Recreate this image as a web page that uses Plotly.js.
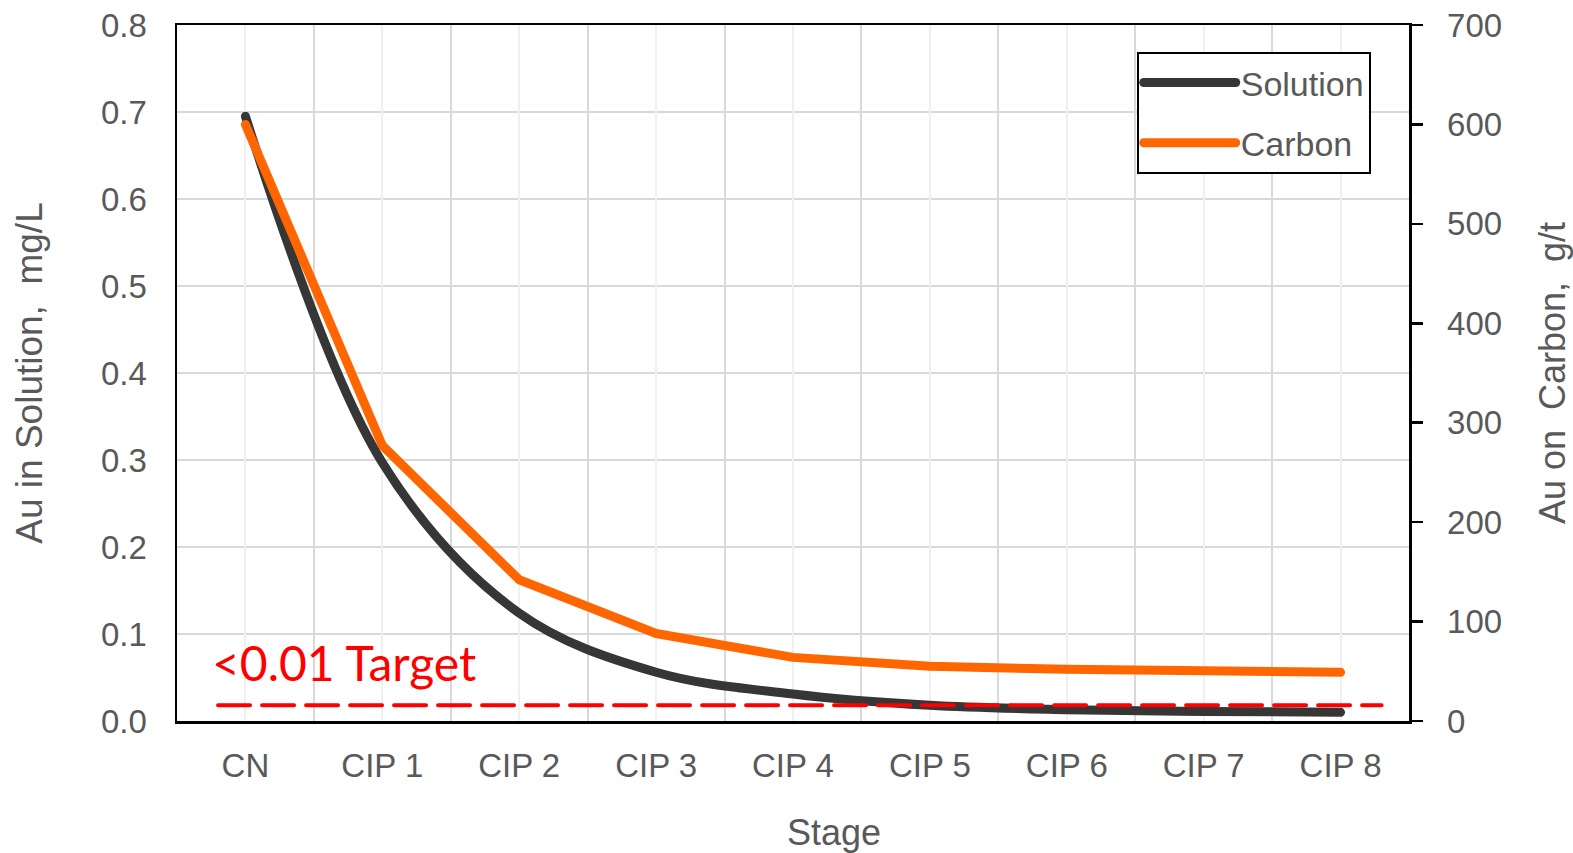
<!DOCTYPE html>
<html>
<head>
<meta charset="utf-8">
<script src="https://cdn.plot.ly/plotly-3.0.1.min.js"></script>
<style>
html, body { margin: 0; padding: 0; background: #fff; }
#chart { width: 1573px; height: 853px; }
.js-line { stroke-linecap: round; stroke-linejoin: round; }
</style>
</head>
<body>
<div id="chart"></div>
<script>
// ---- data ----
const stages = ['CN', 'CIP 1', 'CIP 2', 'CIP 3', 'CIP 4', 'CIP 5', 'CIP 6', 'CIP 7', 'CIP 8'];
const solution = [0.695, 0.297, 0.124, 0.056, 0.031, 0.018, 0.013, 0.011, 0.010];
const carbon = [600, 277, 142, 88, 64, 55, 52, 49.5, 49];
const targetSpan = [-0.2, 8.3];
const targetLevel = [0.018, 0.018];
const targetLabel = '<0.01 Target';
const xTitle = 'Stage';

const tickFont = { family: 'Liberation Sans, Arial, sans-serif', size: 33, color: '#595959' };
const titleFont = { family: 'Liberation Sans, Arial, sans-serif', size: 36, color: '#595959' };

const traces = [
  {
    name: 'Solution', x: stages, y: solution, xaxis: 'x', yaxis: 'y',
    type: 'scatter', mode: 'lines',
    line: { color: '#363636', width: 9, shape: 'spline', smoothing: 1 },
    legendgroup: 'a'
  },
  {
    name: 'Carbon', x: stages, y: carbon, xaxis: 'x', yaxis: 'y2',
    type: 'scatter', mode: 'lines',
    line: { color: '#FF6600', width: 9 },
    legendgroup: 'b'
  },
  {
    name: 'Target', x: targetSpan, y: targetLevel, xaxis: 'x2', yaxis: 'y',
    type: 'scatter', mode: 'lines', showlegend: false, hoverinfo: 'skip',
    line: { color: '#FF0000', width: 4, dash: '32px,12px' }
  }
];

const layout = {
  width: 1573, height: 853,
  margin: { l: 177, r: 164, t: 25, b: 132 },
  paper_bgcolor: '#ffffff', plot_bgcolor: '#ffffff',
  showlegend: true,
  legend: {
    x: 0.779, y: 0.9613, xanchor: 'left', yanchor: 'top',
    bgcolor: '#ffffff', bordercolor: '#000000', borderwidth: 2,
    font: { family: 'Liberation Sans, Arial, sans-serif', size: 34, color: '#595959' },
    itemwidth: 92, traceorder: 'grouped', tracegroupgap: 13
  },
  xaxis: {
    type: 'category', categoryorder: 'array', categoryarray: stages,
    range: [-0.5, 8.5], tickson: 'boundaries',
    showgrid: true, gridcolor: '#d9d9d9', gridwidth: 2,
    ticks: '', showline: true, linecolor: '#000000', linewidth: 2.5, mirror: true,
    tickfont: tickFont, ticklabelstandoff: 14
  },
  xaxis2: {
    type: 'linear', overlaying: 'x', anchor: 'y', range: [-0.5, 8.5],
    tick0: 0, dtick: 1, showgrid: true, gridcolor: '#f0f0f0', gridwidth: 2,
    showticklabels: false, ticks: '', showline: false, zeroline: false
  },
  yaxis: {
    range: [0, 0.8], dtick: 0.1, tickformat: '.1f',
    showgrid: true, gridcolor: '#d9d9d9', gridwidth: 2, zeroline: false,
    ticks: '', showline: true, linecolor: '#000000', linewidth: 2.5,
    tickfont: tickFont, ticklabelstandoff: 21,
    title: { text: 'Au in Solution,\u00A0 mg/L', font: { family: titleFont.family, size: 37, color: '#595959' }, standoff: 47 }
  },
  yaxis2: {
    range: [0, 700], dtick: 100, overlaying: 'y', side: 'right', anchor: 'x',
    showgrid: false, zeroline: false,
    ticks: 'outside', ticklen: 11, tickwidth: 2.5, tickcolor: '#000000',
    showline: true, linecolor: '#000000', linewidth: 2.5,
    tickfont: tickFont, ticklabelstandoff: 18,
    title: { text: 'Au on\u00A0 Carbon,\u00A0 g/t', font: titleFont, standoff: 40 }
  },
  annotations: [
    {
      text: targetLabel, xref: 'x2', yref: 'y', x: -0.26, y: 0.067,
      xanchor: 'left', yanchor: 'middle', showarrow: false,
      font: { family: 'Lato, sans-serif', size: 48, color: '#FF0000' }
    },
    {
      text: xTitle, xref: 'paper', yref: 'paper', x: 0.533, y: -0.16,
      xanchor: 'center', yanchor: 'middle', showarrow: false,
      font: titleFont
    }
  ]
};

Plotly.newPlot('chart', traces, layout, { displayModeBar: false, staticPlot: true });
</script>
</body>
</html>
